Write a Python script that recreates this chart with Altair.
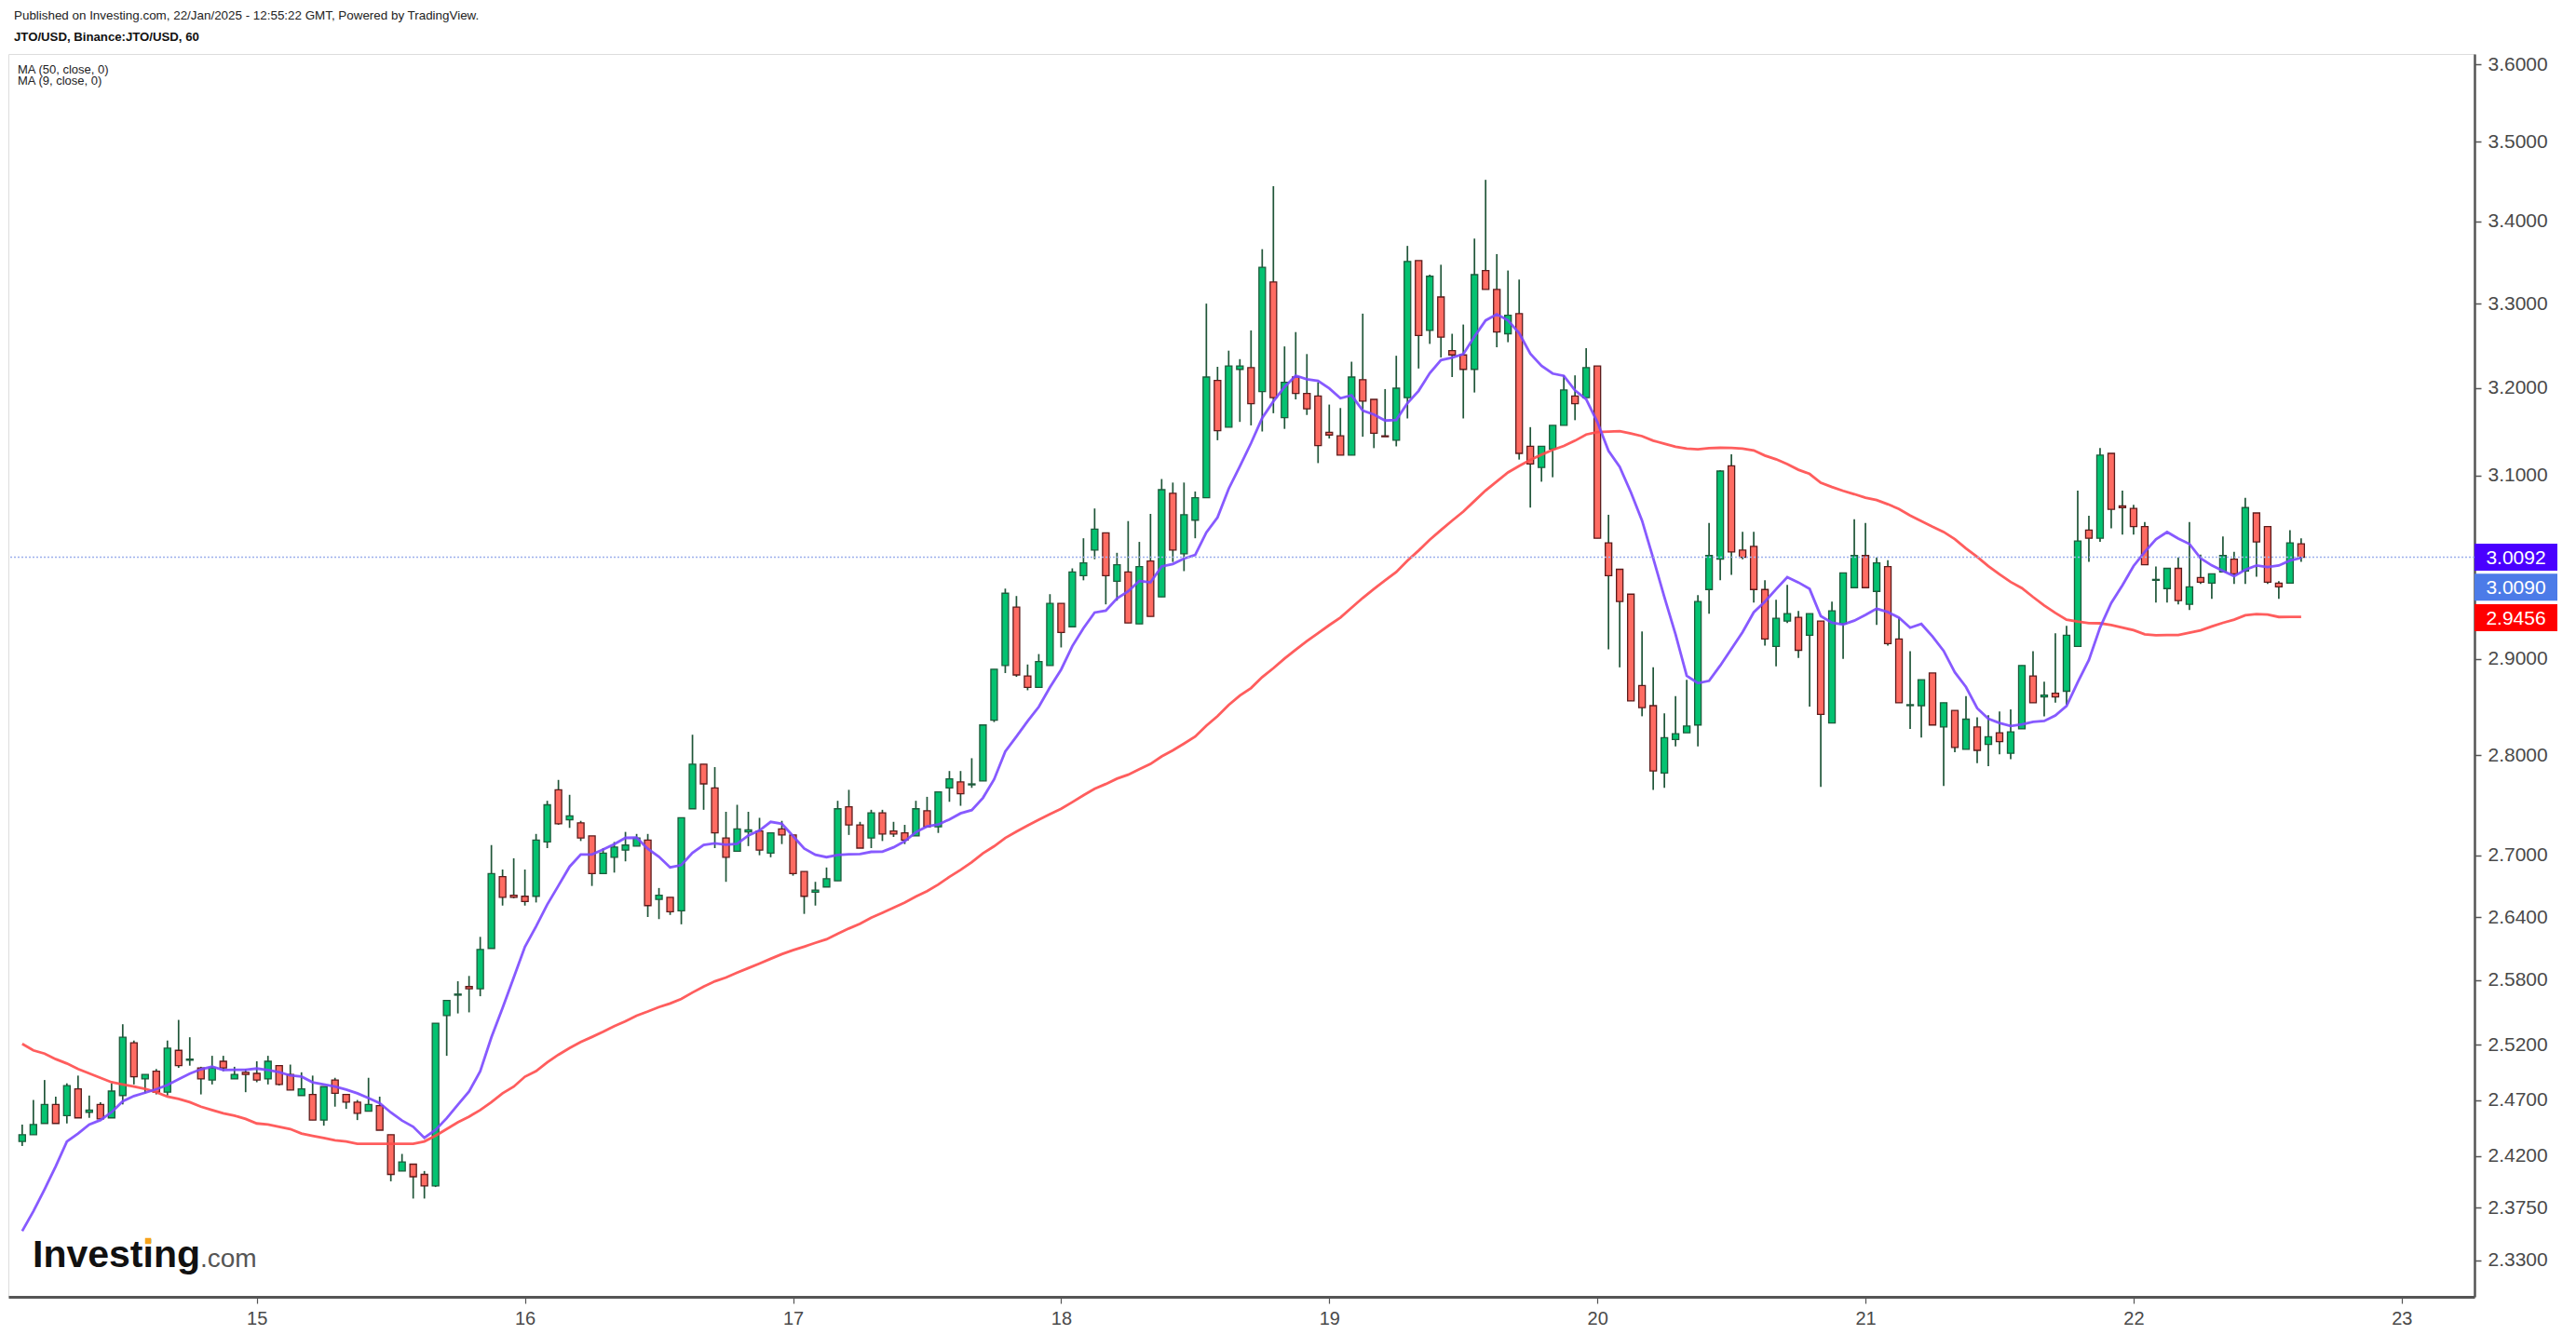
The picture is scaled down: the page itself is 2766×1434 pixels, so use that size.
import altair as alt
import numpy as np
import pandas as pd

# ---------------- data ----------------
first_hour = 3  # first candle: 14 Jan 2025 03:00 (hours after 14 Jan 00:00), hourly candles

opens = [2.433,2.439,2.449,2.466,2.456,2.480,2.459,2.466,2.454,2.474,
         2.522,2.489,2.496,2.477,2.515,2.506,2.499,2.488,2.505,2.489,
         2.495,2.494,2.489,2.501,2.493,2.474,2.475,2.452,2.488,2.475,
         2.468,2.460,2.465,2.439,2.407,2.413,2.404,2.394,2.547,2.566,
         2.574,2.572,2.610,2.679,2.661,2.660,2.660,2.713,2.765,2.735,
         2.732,2.719,2.682,2.698,2.705,2.709,2.715,2.657,2.659,2.646,
         2.746,2.791,2.767,2.717,2.704,2.723,2.724,2.702,2.726,2.720,
         2.684,2.664,2.669,2.675,2.748,2.730,2.717,2.742,2.724,2.722,
         2.719,2.744,2.728,2.767,2.773,2.770,2.774,2.836,2.893,2.955,
         2.882,2.870,2.893,2.959,2.934,2.989,3.017,3.036,2.983,2.993,
         2.937,3.005,2.966,3.080,3.013,3.050,3.075,3.209,3.155,3.222,
         3.224,3.196,3.326,3.166,3.213,3.194,3.191,3.149,3.145,3.123,
         3.210,3.187,3.145,3.140,3.189,3.352,3.268,3.308,3.244,3.239,
         3.222,3.340,3.317,3.264,3.288,3.133,3.109,3.130,3.157,3.191,
         3.189,3.226,3.025,2.996,2.969,2.872,2.851,2.782,2.816,2.823,
         2.831,2.974,3.007,3.111,3.017,3.021,2.974,2.913,2.940,2.944,
         2.925,2.940,2.833,2.937,2.976,3.011,2.972,2.999,2.921,2.851,
         2.851,2.885,2.829,2.846,2.806,2.829,2.811,2.823,2.802,2.827,
         2.882,2.860,2.864,2.866,2.913,3.039,3.030,3.125,3.066,3.063,
         3.043,2.984,2.975,2.997,2.958,2.987,2.981,2.993,3.007,2.994,
         3.058,3.043,2.981,2.981,3.024]

highs = [2.448,2.470,2.488,2.473,2.485,2.492,2.474,2.468,2.485,2.539,
         2.524,2.493,2.498,2.524,2.543,2.527,2.500,2.510,2.510,2.500,
         2.498,2.505,2.510,2.501,2.502,2.495,2.492,2.482,2.490,2.475,
         2.470,2.490,2.473,2.439,2.422,2.413,2.407,2.540,2.561,2.579,
         2.584,2.621,2.710,2.686,2.697,2.686,2.721,2.754,2.775,2.760,
         2.734,2.719,2.707,2.713,2.723,2.721,2.721,2.668,2.659,2.737,
         2.821,2.791,2.788,2.743,2.750,2.743,2.737,2.722,2.734,2.720,
         2.684,2.674,2.688,2.754,2.765,2.733,2.745,2.745,2.733,2.730,
         2.754,2.758,2.763,2.784,2.784,2.797,2.831,2.889,2.975,2.967,
         2.894,2.905,2.969,2.959,2.997,3.030,3.063,3.036,3.014,3.049,
         3.026,3.057,3.096,3.092,3.092,3.082,3.300,3.225,3.244,3.234,
         3.268,3.366,3.444,3.249,3.266,3.240,3.207,3.181,3.177,3.231,
         3.288,3.187,3.199,3.238,3.370,3.352,3.335,3.347,3.264,3.275,
         3.379,3.452,3.360,3.340,3.329,3.155,3.133,3.157,3.215,3.215,
         3.247,3.226,3.056,2.996,2.969,2.929,2.891,2.843,2.861,2.878,
         2.968,3.047,3.106,3.124,3.037,3.037,2.984,2.963,2.979,2.951,
         2.948,2.940,2.961,2.992,3.051,3.047,3.009,3.006,2.944,2.908,
         2.878,2.885,2.854,2.846,2.861,2.839,2.841,2.845,2.847,2.893,
         2.908,2.876,2.927,2.935,3.083,3.055,3.131,3.125,3.083,3.067,
         3.048,2.999,2.997,3.009,3.048,3.012,2.991,3.032,3.015,3.075,
         3.058,3.043,2.983,3.039,3.030]

lows = [2.429,2.439,2.449,2.449,2.449,2.454,2.454,2.453,2.454,2.466,
        2.484,2.476,2.475,2.474,2.499,2.501,2.475,2.484,2.496,2.489,
        2.477,2.486,2.484,2.483,2.479,2.474,2.452,2.447,2.464,2.462,
        2.452,2.460,2.443,2.398,2.407,2.383,2.383,2.393,2.510,2.549,
        2.550,2.565,2.610,2.651,2.658,2.651,2.654,2.707,2.730,2.727,
        2.714,2.670,2.682,2.683,2.694,2.709,2.640,2.638,2.642,2.633,
        2.746,2.745,2.707,2.674,2.704,2.709,2.700,2.698,2.711,2.680,
        2.643,2.651,2.669,2.675,2.720,2.707,2.707,2.714,2.718,2.711,
        2.719,2.728,2.722,2.753,2.749,2.767,2.774,2.834,2.885,2.881,
        2.867,2.870,2.893,2.912,2.934,2.984,3.007,2.958,2.962,2.938,
        2.937,2.945,2.966,3.004,2.994,3.030,3.075,3.140,3.155,3.161,
        3.157,3.150,3.171,3.153,3.187,3.169,3.114,3.142,3.123,3.123,
        3.144,3.131,3.144,3.133,3.165,3.223,3.252,3.236,3.213,3.165,
        3.195,3.317,3.248,3.254,3.118,3.064,3.093,3.098,3.157,3.163,
        3.189,3.030,2.910,2.891,2.856,2.840,2.765,2.767,2.809,2.823,
        2.809,2.948,2.984,2.990,3.007,2.960,2.914,2.892,2.938,2.901,
        2.850,2.768,2.833,2.900,2.976,2.976,2.936,2.914,2.854,2.827,
        2.818,2.831,2.769,2.803,2.806,2.792,2.789,2.801,2.796,2.827,
        2.854,2.840,2.854,2.852,2.913,3.004,3.026,3.041,3.034,3.034,
        3.001,2.960,2.960,2.958,2.952,2.980,2.964,2.993,2.980,2.980,
        2.988,2.980,2.964,2.981,3.004]

closes = [2.439,2.448,2.466,2.449,2.483,2.454,2.461,2.453,2.478,2.527,
          2.491,2.493,2.477,2.517,2.501,2.507,2.489,2.499,2.499,2.493,
          2.493,2.488,2.505,2.484,2.479,2.480,2.452,2.482,2.476,2.468,
          2.458,2.466,2.443,2.404,2.415,2.402,2.394,2.540,2.561,2.567,
          2.572,2.609,2.682,2.659,2.659,2.655,2.715,2.750,2.731,2.739,
          2.717,2.682,2.702,2.708,2.710,2.717,2.651,2.661,2.645,2.737,
          2.791,2.771,2.722,2.698,2.726,2.725,2.705,2.722,2.720,2.682,
          2.660,2.666,2.677,2.746,2.730,2.707,2.742,2.721,2.721,2.715,
          2.746,2.728,2.763,2.776,2.761,2.771,2.831,2.889,2.970,2.883,
          2.870,2.897,2.959,2.928,2.993,3.003,3.040,2.989,3.001,2.938,
          2.999,2.945,3.084,3.017,3.056,3.075,3.213,3.151,3.226,3.226,
          3.182,3.344,3.189,3.207,3.194,3.176,3.134,3.146,3.123,3.213,
          3.185,3.148,3.144,3.200,3.351,3.262,3.333,3.260,3.239,3.222,
          3.335,3.317,3.266,3.286,3.125,3.113,3.133,3.157,3.198,3.182,
          3.224,3.030,2.989,2.961,2.856,2.849,2.784,2.818,2.822,2.830,
          2.961,3.011,3.105,3.015,3.009,2.974,2.921,2.943,2.948,2.909,
          2.948,2.842,2.951,2.992,3.011,2.976,3.003,2.916,2.854,2.852,
          2.878,2.831,2.854,2.808,2.837,2.805,2.819,2.814,2.824,2.893,
          2.854,2.862,2.860,2.925,3.027,3.030,3.123,3.062,3.064,3.043,
          3.001,2.985,2.997,2.962,2.977,2.982,2.991,3.011,2.991,3.064,
          3.026,2.982,2.977,3.025,3.009]

# moving-average values visible before enough candles exist on the chart
ma9_start = [2.355, 2.372, 2.391, 2.411, 2.433, 2.440, 2.448, 2.452]
ma50_start = [2.521,2.515,2.512,2.507,2.503,2.498,2.494,2.490,2.486,2.484,
              2.482,2.480,2.477,2.473,2.471,2.468,2.464,2.461,2.458,2.456,
              2.453,2.449,2.448,2.446,2.444,2.440,2.438,2.436,2.434,2.433,
              2.431,2.431,2.431,2.431,2.431,2.431,2.433,2.438,2.444,2.450,
              2.455,2.461,2.468,2.476,2.482,2.491,2.496,2.504,2.511]

day_labels = [15, 16, 17, 18, 19, 20, 21, 22, 23]
price_ticks = [2.33, 2.375, 2.42, 2.47, 2.52, 2.58, 2.64, 2.70, 2.80, 2.90,
               3.10, 3.20, 3.30, 3.40, 3.50, 3.60]
box_values = [3.0092, 3.0090, 2.9456]
box_texts = ["3.0092", "3.0090", "2.9456"]
box_colors = ["#4A00FF", "#4C7BE8", "#FF0000"]
box_shift = [0, 32, 2]

title_lines = ["Published on Investing.com, 22/Jan/2025 - 12:55:22 GMT, Powered by TradingView.",
               "JTO/USD, Binance:JTO/USD, 60"]
legend_lines = ["MA (50, close, 0)", "MA (9, close, 0)"]

# ---------------- table ----------------
n = len(closes)
df = pd.DataFrame({
    "hour": np.arange(n) + first_hour,
    "open": opens, "high": highs, "low": lows, "close": closes,
})
df["dir"] = np.where(df["close"] >= df["open"], "up", "down")
ma9 = df["close"].rolling(9).mean().to_numpy()
ma9[:len(ma9_start)] = ma9_start
ma50 = df["close"].rolling(50).mean().to_numpy()
ma50[:len(ma50_start)] = ma50_start
df["ma9"] = ma9
df["ma50"] = ma50

W, H = 2648, 1335
FONT = "Liberation Sans"
GREEN, GREEN_EDGE = "#04C271", "#1D5B3B"
RED, RED_EDGE = "#FF6B62", "#5C1B1B"
WICK = "#1F5538"
AXIS = "#555555"

xs = alt.Scale(domain=[2.18, 222.1], nice=False, zero=False)
ys = alt.Scale(type="log", domain=[2.2993, 3.6137], nice=False, zero=False)

x_axis = alt.Axis(orient="bottom", values=[(d - 14) * 24 for d in day_labels],
                  labelExpr="format(datum.value / 24 + 14, 'd')", grid=False, title=None,
                  domainColor=AXIS, domainWidth=3, tickColor=AXIS, tickSize=7, tickWidth=1.2,
                  labelFont=FONT, labelFontSize=20, labelColor="#4a4a4a", labelPadding=6,
                  labelFlush=False)
y_axis = alt.Axis(orient="right", values=price_ticks, format=".4f", grid=False, title=None,
                  domainColor=AXIS, domainWidth=2.5, tickColor=AXIS, tickSize=7, tickWidth=1.5,
                  labelFont=FONT, labelFontSize=21, labelColor="#4a4a4a", labelPadding=7,
                  labelOverlap=False)

base = alt.Chart(df)

wicks = base.mark_rule(color=WICK, strokeWidth=1.7).encode(
    x=alt.X("hour:Q", scale=xs, axis=x_axis),
    y=alt.Y("low:Q", scale=ys, axis=y_axis),
    y2="high:Q",
)

bodies = base.mark_bar(width=7, strokeWidth=1.3).encode(
    x=alt.X("hour:Q", scale=xs),
    y=alt.Y("open:Q", scale=ys),
    y2="close:Q",
    fill=alt.Fill("dir:N", scale=alt.Scale(domain=["up", "down"], range=[GREEN, RED]), legend=None),
    stroke=alt.Stroke("dir:N", scale=alt.Scale(domain=["up", "down"], range=[GREEN_EDGE, RED_EDGE]), legend=None),
)

ma50_line = base.mark_line(color="#FF4B4B", strokeWidth=2.8, opacity=0.9).encode(
    x=alt.X("hour:Q", scale=xs), y=alt.Y("ma50:Q", scale=ys))
ma9_line = base.mark_line(color="#7A48FF", strokeWidth=2.8, opacity=0.9).encode(
    x=alt.X("hour:Q", scale=xs), y=alt.Y("ma9:Q", scale=ys))

last_df = pd.DataFrame({"v": [box_values[0]]})
last_rule = alt.Chart(last_df).mark_rule(color="#9DB0EC", strokeWidth=1.3, strokeDash=[2, 2]).encode(
    y=alt.Y("v:Q", scale=ys))

layers = [wicks, bodies, ma50_line, ma9_line, last_rule]

for v, t, c, s in zip(box_values, box_texts, box_colors, box_shift):
    bdf = pd.DataFrame({"v": [v], "t": [t]})
    box = alt.Chart(bdf).mark_tick(orient="horizontal", size=89, thickness=29, color=c,
                                   opacity=1, yOffset=s).encode(
        x=alt.value(W + 44.5), y=alt.Y("v:Q", scale=ys))
    txt = alt.Chart(bdf).mark_text(color="white", font=FONT, fontSize=21, align="center",
                                   baseline="middle", yOffset=s + 1).encode(
        x=alt.value(W + 44.5), y=alt.Y("v:Q", scale=ys), text="t:N")
    layers += [box, txt]

# header texts
hdr = pd.DataFrame({"t": [title_lines[0]]})
layers.append(alt.Chart(hdr).mark_text(font=FONT, fontSize=13.4, color="#222222", align="left",
                                       baseline="middle").encode(
    x=alt.value(6), y=alt.value(-41), text="t:N"))
hdr2 = pd.DataFrame({"t": [title_lines[1]]})
layers.append(alt.Chart(hdr2).mark_text(font=FONT, fontSize=13.2, fontWeight="bold", color="#111111",
                                        align="left", baseline="middle").encode(
    x=alt.value(6), y=alt.value(-18), text="t:N"))
for i, line in enumerate(legend_lines):
    ldf = pd.DataFrame({"t": [line]})
    layers.append(alt.Chart(ldf).mark_text(font=FONT, fontSize=13, color="#222222", align="left",
                                           baseline="middle").encode(
        x=alt.value(10), y=alt.value(17 + 12 * i), text="t:N"))

# Investing.com logo
logo1 = pd.DataFrame({"t": ["Investing"]})
logo2 = pd.DataFrame({"t": [".com"]})
layers.append(alt.Chart(logo1).mark_text(font=FONT, fontSize=41, fontWeight="bold", color="#111111",
                                         align="left", baseline="alphabetic").encode(
    x=alt.value(26), y=alt.value(1303), text="t:N"))
layers.append(alt.Chart(logo2).mark_text(font=FONT, fontSize=28, color="#555555",
                                         align="left", baseline="alphabetic").encode(
    x=alt.value(206), y=alt.value(1303), text="t:N"))
dot = pd.DataFrame({"t": ["i"]})
layers.append(alt.Chart(dot).mark_square(size=42, color="#F7A21B", opacity=1, filled=True).encode(
    x=alt.value(150), y=alt.value(1275)))

chart = alt.layer(*layers).properties(
    width=W, height=H,
    padding={"left": 9, "top": 58, "right": 109, "bottom": 41},
    autosize=alt.AutoSizeParams(type="none"),
).configure_view(stroke=None).configure(background="white")

chart.save("out.html", embed_options={"renderer": "svg", "actions": False})
